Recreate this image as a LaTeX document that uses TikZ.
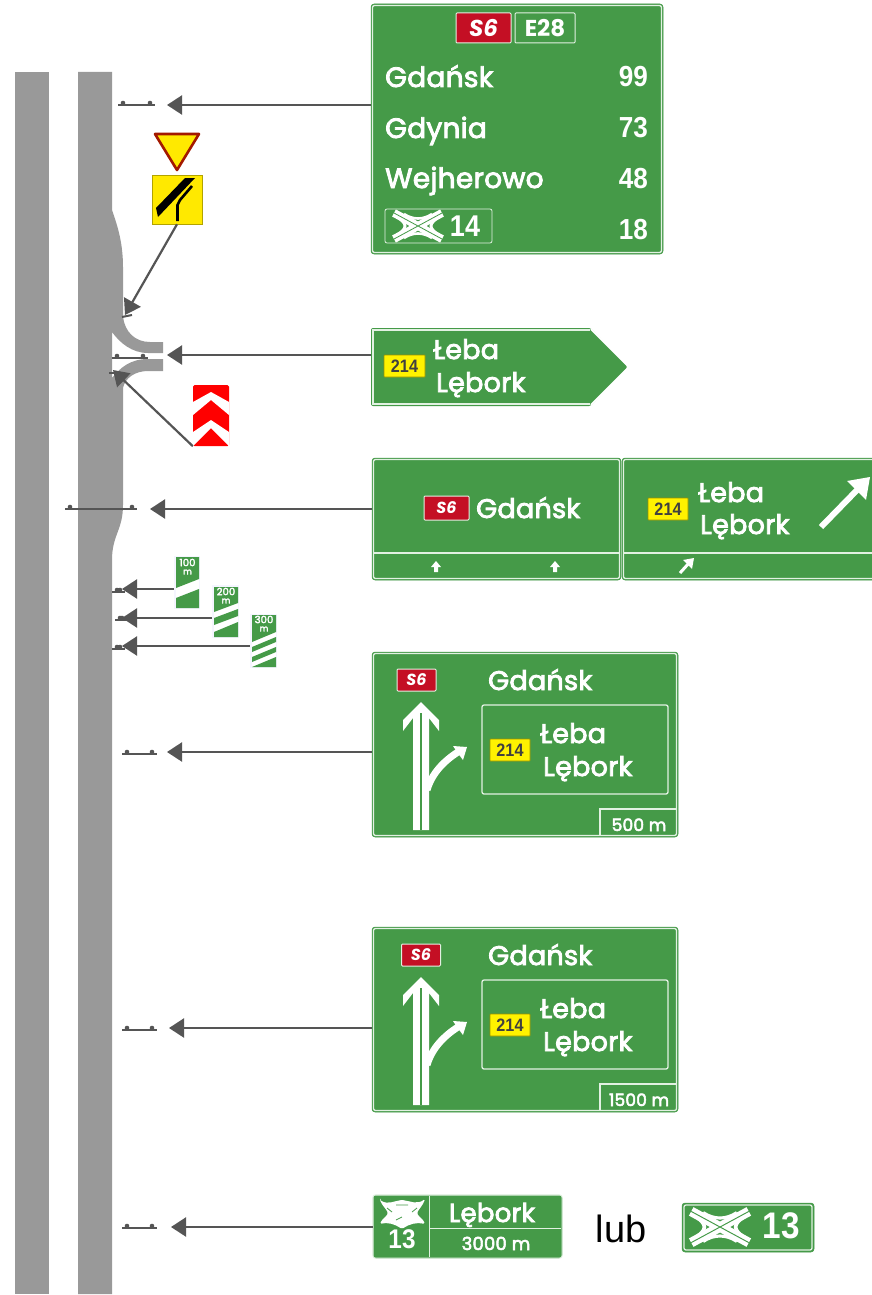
\documentclass[tikz,border=0pt]{standalone}
\usepackage{fontspec}
\setmainfont{Poppins}
\newfontfamily\lubfont{Liberation Sans}
\newfontfamily\sgnf[FakeBold=3,LetterSpace=1]{Poppins}
\newfontfamily\numf[FakeStretch=.9]{Liberation Sans}
\usetikzlibrary{arrows.meta}
\definecolor{roadgray}{HTML}{999999}
\definecolor{postgray}{HTML}{555555}
\definecolor{signgreen}{HTML}{459A48}
\definecolor{signline}{HTML}{E2F1E2}
\definecolor{sred}{HTML}{C40F24}
\definecolor{yel}{HTML}{FFF200}
\definecolor{pal}{HTML}{FFE900}
\newcommand\fs[1]{\fontsize{#1}{#1}\selectfont\bfseries}
\newcommand\fr[1]{\sgnf\fontsize{#1}{#1}\selectfont}
\newcommand\fn[1]{\numf\fontsize{#1}{#1}\selectfont\bfseries}
\tikzset{
 conn/.style={draw=postgray,line width=2.2pt,-{Triangle[length=15pt,width=19pt]}},
 postline/.style={draw=postgray,line width=2pt},
 signbase/.style={fill=signgreen,draw=signgreen,line width=.5pt,rounded corners=3pt,inner sep=0pt},
 inline/.style={draw=signline,line width=1.3pt,rounded corners=2pt},
 wtxt/.style={text=white,inner sep=0pt},
 wleft/.style={wtxt,anchor=base west},
 wright/.style={wtxt,anchor=base east},
 wbase/.style={wtxt,anchor=base},
 redtag/.style={fill=sred,draw=signline,line width=1pt,rounded corners=1pt,text=white,inner sep=0pt},
 greentag/.style={fill=signgreen,draw=signline,line width=1pt,rounded corners=1pt,text=white,inner sep=0pt},
 yeltag/.style={fill=yel,draw=yel!60!black,line width=.6pt,text=black!75,inner sep=0pt,rounded corners=.5pt,minimum width=40pt,minimum height=22pt,font=\fn{18}},
}
\newcommand\post[3]{%
 \draw[postline] (#1,#3)--(#2,#3);
 \fill[postgray] (#1+5,#3-2) circle (2.3pt) (#2-5,#3-2) circle (2.3pt);}
% interchange icon
\newcommand\xchg[3]{%
 \begin{scope}[shift={(#1,#2)},scale=#3]
 \draw[white,line width=#3*3pt] (-22,-10) .. controls (-10,-2) and (-10,2) .. (-22,10);
 \draw[white,line width=#3*3pt] (22,-10) .. controls (10,-2) and (10,2) .. (22,10);
 \draw[white,line width=#3*2.6pt] (-14,-12) .. controls (-5,-6) and (5,-6) .. (14,-12);
 \draw[white,line width=#3*2.6pt] (-14,12) .. controls (-5,6) and (5,6) .. (14,12);
 \draw[white,line width=#3*8pt] (-24,-13)--(24,13) (-24,13)--(24,-13);
 \draw[signgreen,line width=#3*.8pt] (-24,-13)--(24,13) (-24,13)--(24,-13);
 \end{scope}}
% large direction sign with lane arrows
\newcommand\dirsign[4]{%
 \begin{scope}[shift={(0,#2)}]
 \node[signbase,minimum width=306pt,minimum height=185pt] (#1sign) at (525,744.5) {};
 \draw[inline] (373.5,653.5) rectangle (676.5,835.5);
 \node[redtag,minimum width=39pt,minimum height=22pt,font=\fs{16}\itshape] (#1s6) at (#3,680) {S6};
 \node[wleft,font=\fr{27}] (#1gd) at (488,690) {Gdańsk};
 \node[draw=signline,line width=1.3pt,rounded corners=2pt,minimum width=186pt,minimum height=89pt,inner sep=0pt] (#1box) at (575,749.5) {};
 \node[yeltag] (#1yel) at (510,750) {214};
 \node[wleft,font=\fr{27}] (#1le) at (540,743) {Łeba};
 \node[wleft,font=\fr{27}] (#1lb) at (543,776) {Lębork};
 \draw[signline,line width=1.3pt] (677,809)--(600,809)--(600,836);
 \node[wbase,font=\fr{17}] (#1dist) at (639,831) {#4};
 \fill[white] (413,830)--(413,718)--(403,731)--(403,720)--(421,702)--(439,720)--(439,731)--(429,718)--(429,830)--cycle;
 \draw[white,line width=7pt] (427,790) .. controls (432,773) and (444,761) .. (458,752);
 \fill[white] (467,747)--(453,746)--(457,752)--(463,760)--cycle;
 \draw[signgreen,line width=1.6pt] (421,713)--(421,830);
 \end{scope}}
\begin{document}
\begin{tikzpicture}[x=1pt,y=-1pt]
\useasboundingbox (0,0) rectangle (871,1295);
\fill[white] (0,0) rectangle (871,1295);
% road
\fill[roadgray] (15,72) rectangle (49,1294);
\fill[roadgray] (78,72)--(112,72)--(112,210) .. controls (116,222) and (123,240) .. (123,267)--(123,317)
 .. controls (125,332) and (135,342) .. (150,342)--(163,342)--(163,353)--(148,353)
 .. controls (132,353) and (120,343) .. (112,332)--(112,378)
 .. controls (120,368) and (130,359) .. (148,359)--(163,359)--(163,371)--(148,371)
 .. controls (135,371) and (125,378) .. (123,388)--(123,505)
 .. controls (123,530) and (112,535) .. (112,560)--(112,1294)--(78,1294)--cycle;
% posts
\post{118}{155}{105}
\draw[postline] (122,317)--(132,315);
\post{112}{148}{358}
\draw[postline] (109,373)--(125,373);
\post{65}{137}{509}
\post{112}{125}{592}
\post{115}{127}{620}
\post{112}{125}{649}
\post{122}{157}{754}
\post{122}{157}{1030}
\post{122}{157}{1228}
% sign A
\node[signbase,minimum width=292pt,minimum height=250pt] (signA) at (517,129) {};
\draw[inline] (372.5,5.5) rectangle (661.5,252.5);
\node[redtag,minimum width=55pt,minimum height=30pt,font=\fs{23}\itshape] (aS) at (483.5,28) {S6};
\node[greentag,minimum width=60pt,minimum height=30pt,font=\fs{23}] (aE) at (545,28) {E28};
\node[wleft,font=\fr{28}] (a1) at (385,87) {Gdańsk};
\node[wleft,font=\fr{28}] (a2) at (385,138) {Gdynia};
\node[wleft,font=\fr{28}] (a3) at (385,188) {Wejherowo};
\node[wright,font=\fn{29}] (n1) at (648,87) {99};
\node[wright,font=\fn{29}] (n2) at (648,138) {73};
\node[wright,font=\fn{29}] (n3) at (648,188) {48};
\node[wright,font=\fn{29}] (n4) at (648,239) {18};
\node[draw=signline,line width=.8pt,rounded corners=2pt,minimum width=107pt,minimum height=34pt,inner sep=0pt] (aBox) at (438.5,226) {};
\xchg{418}{226}{1}
\node[wbase,font=\fn{30}] (aN) at (465,236) {14};
% sign B
\node[signbase,draw=none,fill=none,minimum width=259pt,minimum height=78pt] (signB) at (500.5,367) {};
\fill[signgreen,rounded corners=2pt] (371,328)--(591,328)--(628,367)--(591,406)--(371,406)--cycle;
\draw[signline,line width=1.3pt] (590,330)--(373,330)--(373,404)--(590,404);
\draw[white,line width=2pt,line join=round] (591,329)--(629,367)--(591,405);
\draw[signline,line width=1pt] (590,330)--(622,367)--(590,404) [draw=none];
\node[yeltag,minimum width=41pt] (bY) at (404.5,366) {214};
\node[wleft,font=\fr{27}] (bL) at (433,359) {Łeba};
\node[wleft,font=\fr{27}] (bK) at (436,392) {Lębork};
% sign C
\node[signbase,minimum width=249pt,minimum height=122pt] (signC) at (496.5,519) {};
\draw[inline] (373.5,459.5) rectangle (619.5,578.5);
\draw[signline,line width=1.3pt] (373.5,553)--(619.5,553);
\node[redtag,minimum width=45pt,minimum height=24pt,font=\fs{16}\itshape] (cS) at (446.5,508) {S6};
\node[wleft,font=\fr{27}] (cG) at (476,518) {Gdańsk};
\fill[white] (436,561)--(441,567)--(438,567)--(438,572)--(434,572)--(434,567)--(431,567)--cycle;
\fill[white] (555,561)--(560,567)--(557,567)--(557,572)--(553,572)--(553,567)--(550,567)--cycle;
% sign D
\node[signbase,minimum width=256pt,minimum height=122pt] (signD) at (750,519) {};
\draw[inline] (623.5,459.5) rectangle (876,578.5);
\draw[signline,line width=1.3pt] (623.5,553)--(876,553);
\node[yeltag] (dY) at (668,509) {214};
\node[wleft,font=\fr{27}] (dL) at (698,502) {Łeba};
\node[wleft,font=\fr{27}] (dK) at (700,534) {Lębork};
\draw[white,line width=6pt] (821,527)--(860,487);
\fill[white] (870,477)--(866,500)--(847,481)--cycle;
\draw[white,line width=3pt] (680,573)--(689,563);
\fill[white] (694,558)--(692,569)--(683,560)--cycle;
% direction signs
\dirsign{e}{0}{416.5}{500 m}
\dirsign{f}{275}{421}{1500 m}
% sign G
\node[signbase,minimum width=189pt,minimum height=63pt] (signG) at (467.5,1226.5) {};
\draw[signline,line width=1pt,rounded corners=2pt] (373,1195) rectangle (562,1258);
\draw[signline,line width=1pt] (429,1196)--(429,1257) (429,1228)--(561,1228);
\fill[white,rounded corners=1.5pt] (380,1200) .. controls (388,1205) and (394,1201) .. (402,1200) .. controls (410,1201) and (417,1205) .. (425,1199) .. controls (423,1205) and (419,1209) .. (417,1213) .. controls (419,1217) and (423,1219) .. (425,1224) .. controls (417,1222) and (409,1224) .. (402,1229) .. controls (395,1224) and (387,1222) .. (380,1224) .. controls (382,1219) and (386,1217) .. (388,1213) .. controls (386,1209) and (382,1205) .. (380,1200) --cycle;
\draw[signgreen,line width=.8pt] (387,1208)--(392,1212) (417,1208)--(412,1212) (396,1205)--(408,1205) (396,1220)--(402,1217);
\node[wbase,font=\fn{27}] (gN) at (402,1248) {13};
\node[wbase,font=\fr{26}] (gL) at (492,1222) {Lębork};
\node[wbase,font=\fr{18}] (gD) at (496,1250) {3000 m};
\node[inner sep=0pt,anchor=base,font=\lubfont\fontsize{38}{38}\selectfont] (lub) at (621,1242) {lub};
% sign H
\node[signbase,minimum width=132pt,minimum height=49pt] (signH) at (748,1227.5) {};
\draw[inline] (684,1205) rectangle (812,1250);
\xchg{720}{1227}{1.2}
\node[wbase,font=\fn{37}] (hN) at (781,1238) {13};
% countdown signs
\node[fill=blue!4,inner sep=0pt,minimum width=26pt,minimum height=53pt] (cd1) at (187,582.5) {};
\fill[white] (176,557) rectangle (199,608);
\fill[signgreen] (176,557)--(199,557)--(199,579)--(176,588)--cycle;
\fill[signgreen] (176,598)--(199,589)--(199,608)--(176,608)--cycle;
\node[wtxt,font=\fr{10}] (cd1t) at (187.5,562.5) {100};
\node[wtxt,font=\fr{8.5}] (cd1m) at (187.5,572) {m};
\node[fill=blue!4,inner sep=0pt,minimum width=27pt,minimum height=53pt] (cd2) at (225.5,611.5) {};
\fill[white] (214,587) rectangle (238,637);
\fill[signgreen] (214,587)--(238,587)--(238,603)--(214,612)--cycle;
\fill[signgreen] (214,618)--(238,609)--(238,616)--(214,625)--cycle;
\fill[signgreen] (214,632)--(238,622)--(238,637)--(214,637)--cycle;
\node[wtxt,font=\fr{10}] (cd2t) at (226,591.5) {200};
\node[wtxt,font=\fr{8.5}] (cd2m) at (226,601) {m};
\node[fill=blue!4,inner sep=0pt,minimum width=27pt,minimum height=54pt] (cd3) at (263.5,641) {};
\fill[white] (252,615) rectangle (276,667);
\fill[signgreen] (252,615)--(276,615)--(276,632)--(252,642)--cycle;
\fill[signgreen] (252,647)--(276,637)--(276,642)--(252,652)--cycle;
\fill[signgreen] (252,657)--(276,647)--(276,652)--(252,662)--cycle;
\fill[signgreen] (276,657)--(276,667)--(252,667)--cycle;
\node[wtxt,font=\fr{10}] (cd3t) at (264,619.5) {300};
\node[wtxt,font=\fr{8.5}] (cd3m) at (264,629) {m};
% yield and panel
\fill[pal,draw=red!55!black!80!orange,line width=2.6pt,line join=round] (155,134)--(199,134)--(177,170)--cycle;
\node[fill=pal,draw=pal!70!black,line width=.5pt,inner sep=0pt,minimum width=50pt,minimum height=49pt] (panel) at (177,199.5) {};
\fill[black] (156,208)--(185,178)--(195,178)--(158,217)--cycle;
\draw[black,line width=2.6pt] (192,186)--(180,200)--(177.5,205)--(177.5,221);
% chevron panel
\node[fill=red,rounded corners=1.5pt,inner sep=0pt,minimum width=36pt,minimum height=61pt] (chev) at (211,415.5) {};
\fill[white] (193,402)--(211,392)--(229,402)--(229,415)--(211,400)--(193,415)--cycle;
\fill[white] (193,432)--(211,420)--(229,432)--(229,446)--(211,428)--(193,446)--cycle;
% connectors
\coordinate (t1) at (167,105);
\coordinate (t2) at (125,315);
\coordinate (t3) at (167,355);
\coordinate (t4) at (113,370);
\coordinate (t5) at (150,509);
\coordinate (t6) at (122,589);
\coordinate (t7) at (122,618);
\coordinate (t8) at (122,646);
\coordinate (t9) at (167,752);
\coordinate (t10) at (169,1028);
\coordinate (t11) at (171,1227);
\draw[conn] (signA.west |- t1) -- (t1);
\draw[conn] (panel.south) -- (t2);
\draw[conn] (signB.west |- t3) -- (t3);
\draw[conn] (chev.south west) -- (t4);
\draw[conn] (signC.west |- t5) -- (t5);
\draw[conn] (cd1.west |- t6) -- (t6);
\draw[conn] (cd2.west |- t7) -- (t7);
\draw[conn] (cd3.west |- t8) -- (t8);
\draw[conn] (esign.west |- t9) -- (t9);
\draw[conn] (fsign.west |- t10) -- (t10);
\draw[conn] (signG.west |- t11) -- (t11);
\end{tikzpicture}
\end{document}
